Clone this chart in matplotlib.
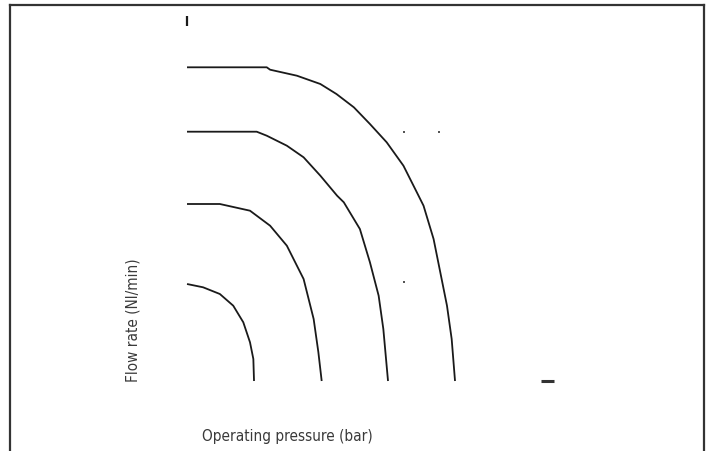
import matplotlib.pyplot as plt

# curves: operating pressure (bar) vs flow rate (Nl/min)
p1 = [0, 1.19, 1.24, 1.64, 1.99, 2.23, 2.49, 2.73, 2.98, 3.23, 3.43, 3.53, 3.68, 3.78, 3.88, 3.95, 4.0]
q1 = [313.7, 313.7, 311.3, 305.3, 297, 287, 273.7, 257, 238.7, 215.3, 188.7, 175.3, 142, 108.7, 75.3, 42, 0]

p2 = [0, 1.04, 1.19, 1.49, 1.74, 1.99, 2.24, 2.34, 2.58, 2.73, 2.86, 2.93, 3.0]
q2 = [249.3, 249.3, 245.3, 235.3, 223.7, 205.3, 185.3, 178.7, 152, 118.7, 85.3, 52, 0]

p3 = [0, 0.49, 0.94, 1.24, 1.49, 1.74, 1.89, 1.96, 2.01]
q3 = [177, 177, 170.3, 155.3, 135.3, 102, 62, 29, 0]

p4 = [0, 0.24, 0.49, 0.69, 0.84, 0.94, 0.99, 1.0]
q4 = [97, 93.7, 87, 75.3, 58.7, 38.7, 22, 0]

# leftover bits of the original axes
y_tick_p = [0, 0]
y_tick_q = [355.3, 365.3]
x_end_p = [5.29, 5.47]
x_end_q = [0, 0]
dots_p = [3.24, 3.76, 3.24]
dots_q = [249.3, 249.3, 99.3]

W, H = 708, 452
fig = plt.figure(figsize=(W / 100, H / 100), dpi=100)
ax = fig.add_axes([10 / W, 0, (704 - 10) / W, 1 - 6 / H])
ax.set_xlim(-2.642, 7.716)
ax.set_ylim(-70, 376)
ax.set_xticks([])
ax.set_yticks([])
for s in ['left', 'top', 'right']:
    ax.spines[s].set_color('#333333')
    ax.spines[s].set_linewidth(1.6)
ax.spines['bottom'].set_visible(False)

for p, q in [(p1, q1), (p2, q2), (p3, q3), (p4, q4)]:
    ax.plot(p, q, color='#1a1a1a', lw=1.3, solid_capstyle='butt')

ax.plot(y_tick_p, y_tick_q, color='#1a1a1a', lw=1.6, solid_capstyle='butt')
ax.plot(x_end_p, x_end_q, color='#333333', lw=2.2, solid_capstyle='butt')
ax.plot(dots_p, dots_q, 's', color='#555555', ms=1.5, mew=0)

fig.text(287.5 / W, 1 - 437 / H, 'Operating pressure (bar)', ha='center', va='center',
         fontsize=11, color='#3a3a3a', family='DejaVu Sans', stretch='condensed')
fig.text(133 / W, 1 - 320 / H, 'Flow rate (Nl/min)', ha='center', va='center',
         rotation=90, fontsize=11, color='#3a3a3a', family='DejaVu Sans', stretch='condensed')

fig.savefig('out.png', dpi=100)
